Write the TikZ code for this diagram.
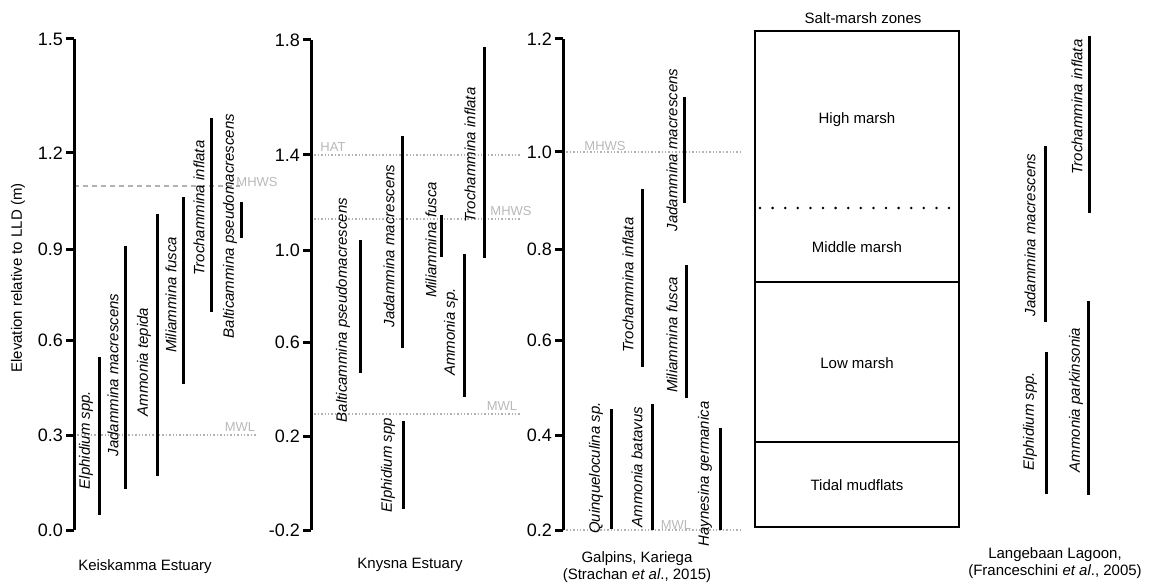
\documentclass[tikz,border=0pt]{standalone}
\usepackage{fontspec}
\setmainfont{Liberation Sans}
\usepackage{tikz}

\begin{document}
\begin{tikzpicture}[x=1pt,y=-1pt,
  font=\fontsize{15}{17}\selectfont,
  axis/.style={line width=3pt},
  ticklab/.style={anchor=east,inner sep=1pt,font=\fontsize{18}{20}\selectfont},
  bar/.style={line width=3pt},
  sp/.style={rotate=90,inner sep=0pt,font=\fontsize{15}{17}\selectfont\itshape},
  lvl/.style={gray!60,line width=1.4pt,dotted},
  lvllab/.style={gray!55,inner sep=0pt,font=\fontsize{13}{15}\selectfont},
  zone/.style={inner sep=0pt}]
\useasboundingbox (0,0) rectangle (1156,588);

% y axis title
\node[rotate=90] (ytitle) at (18,278) {Elevation relative to LLD (m)};

% Keiskamma Estuary
\draw[lvl,dashed,dash pattern=on 5pt off 4pt] (74,186) -- (240,186);
\node[lvllab] (k-mhws) at (257,182) {MHWS};
\draw[lvl] (74,435) -- (257,435);
\node[lvllab] (k-mwl) at (240,427) {MWL};
\draw[axis] (74,39) -- (74,530);
\foreach \v/\y in {1.5/39,1.2/153,0.9/249,0.6/340,0.3/435,0.0/530}{
  \draw[axis] (66,\y) -- (74,\y);
  \node[ticklab] (k-t\y) at (64,\y) {\v};
}
\foreach \x/\yt/\yb/\lx/\ly/\name in {
  99/357/515/86/440/Elphidium spp.,
  125/246/489/113/375/Jadammina macrescens,
  157/214/476/144/362/Ammonia tepida,
  183/197/384/171/295/Miliammina fusca,
  211/118/312/199/208/Trochammina inflata,
  241/202/238/230/226/Balticammina pseudomacrescens}{
  \draw[bar] (\x,\yt) -- (\x,\yb);
  \node[sp] (k-\x) at (\lx,\ly) {\name};
}
\node (k-title) at (145,567) {Keiskamma Estuary};

% Knysna Estuary
\draw[lvl] (311,155) -- (520,155);
\node[lvllab] (n-hat) at (333,147) {HAT};
\draw[lvl] (311,219) -- (520,219);
\node[lvllab] (n-mhws) at (511,211) {MHWS};
\draw[lvl] (311,414) -- (520,414);
\node[lvllab] (n-mwl) at (502,406) {MWL};
\draw[axis] (311,40) -- (311,530);
\foreach \v/\y in {1.8/40,1.4/155,1.0/250,0.6/342,0.2/436,-0.2/530}{
  \draw[axis] (303,\y) -- (311,\y);
  \node[ticklab] (n-t\y) at (301,\y) {\v};
}
\foreach \x/\yt/\yb/\lx/\ly/\name in {
  360/240/373/343/310/Balticammina pseudomacrescens,
  402/136/348/389/246/Jadammina macrescens,
  403/421/509/388/465/Elphidium spp,
  441/215/257/431/240/Miliammina fusca,
  464/254/397/451/332/Ammonia sp.,
  484/47/258/470/155/Trochammina inflata}{
  \draw[bar] (\x,\yt) -- (\x,\yb);
  \node[sp] (n-\x) at (\lx,\ly) {\name};
}
\node (n-title) at (410,565) {Knysna Estuary};

% Galpins, Kariega
\draw[lvl] (563,152) -- (740,152);
\node[lvllab] (g-mhws) at (605,146) {MHWS};
\draw[lvl] (563,530) -- (740,530);
\node[lvllab] (g-mwl) at (676,525) {MWL};
\draw[axis] (563,39) -- (563,530);
\foreach \v/\y in {1.2/39,1.0/152,0.8/249,0.6/340,0.4/435,0.2/530}{
  \draw[axis] (555,\y) -- (563,\y);
  \node[ticklab] (g-t\y) at (553,\y) {\v};
}
\foreach \x/\yt/\yb/\lx/\ly/\name in {
  684/97/203/672/150/Jadammina macrescens,
  642/189/367/628/285/Trochammina inflata,
  686/265/398/672/335/Miliammina fusca,
  611/409/529/596/468/Quinqueloculina sp.,
  652/404/530/637/467/Ammonia batavus,
  720/428/530/705/474/Haynesina germanica}{
  \draw[bar] (\x,\yt) -- (\x,\yb);
  \node[sp] (g-\x) at (\lx,\ly) {\name};
}
\node[align=center] (g-title) at (637,567) {Galpins, Kariega\\(Strachan \textit{et al}., 2015)};

% salt-marsh zones
\node (z-title) at (863,18) {Salt-marsh zones};
\draw[line width=2.4pt] (755,31) rectangle (959,527);
\draw[line width=2.4pt] (755,282) -- (959,282);
\draw[line width=2.4pt] (755,442) -- (959,442);
\draw[line width=2.8pt,line cap=round,dash pattern=on 0pt off 12.6pt] (760,208) -- (950,208);
\node[zone] (z-high) at (857,120) {High marsh};
\node[zone] (z-mid) at (857,247) {Middle marsh};
\node[zone] (z-low) at (857,363) {Low marsh};
\node[zone] (z-mud) at (857,485) {Tidal mudflats};

% Langebaan Lagoon
\foreach \x/\yt/\yb/\lx/\ly/\name in {
  1089/36/213/1077/107/Trochammina inflata,
  1045/146/322/1030/235/Jadammina macrescens,
  1046/352/494/1030/421/Elphidium spp.,
  1088/301/495/1076/400/Ammonia parkinsonia}{
  \draw[bar] (\x,\yt) -- (\x,\yb);
  \node[sp] (l-\x) at (\lx,\ly) {\name};
}
\node[align=center] (l-title) at (1055,563) {Langebaan Lagoon,\\(Franceschini \textit{et al}., 2005)};
\end{tikzpicture}
\end{document}
